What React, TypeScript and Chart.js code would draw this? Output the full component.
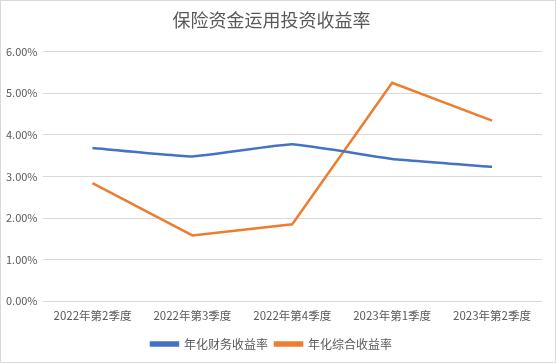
import React, { useEffect, useRef } from "react";
import { Chart, registerables } from "chart.js";

Chart.register(...registerables);

const categories = ["2022年第2季度", "2022年第3季度", "2022年第4季度", "2023年第1季度", "2023年第2季度"];
const financialYield = [0.0368, 0.0348, 0.0377, 0.0342, 0.0323];
const comprehensiveYield = [0.0284, 0.0158, 0.0185, 0.0525, 0.0434];
const seriesNames = ["年化财务收益率", "年化综合收益率"];
const titleText = "保险资金运用投资收益率";

const FONT = "'Noto Sans CJK SC', 'Noto Sans', sans-serif";

export default function App() {
  const ref = useRef<HTMLCanvasElement | null>(null);

  useEffect(() => {
    document.body.style.margin = "0";
    const ctx = ref.current!;
    const chart = new Chart(ctx, {
      type: "line",
      data: {
        labels: categories,
        datasets: [
          {
            label: seriesNames[0],
            data: financialYield,
            borderColor: "#4472C4",
            backgroundColor: "#4472C4",
            borderWidth: 2.5,
            pointRadius: 0,
            tension: 0.1,
          },
          {
            label: seriesNames[1],
            data: comprehensiveYield,
            borderColor: "#ED7D31",
            backgroundColor: "#ED7D31",
            borderWidth: 2.5,
            pointRadius: 0,
            tension: 0,
          },
        ],
      },
      options: {
        animation: false,
        responsive: false,
        layout: { padding: { left: 0, right: 13, top: 6, bottom: 2 } },
        plugins: {
          title: {
            display: true,
            text: titleText,
            color: "#595959",
            font: { family: FONT, size: 18, weight: "normal" },
            padding: { top: 2, bottom: 21 },
          },
          legend: {
            position: "bottom",
            labels: {
              color: "#595959",
              font: { family: FONT, size: 12 },
              boxWidth: 27,
              boxHeight: 3,
              padding: 7,
            },
          },
          tooltip: { enabled: false },
        },
        scales: {
          x: {
            offset: true,
            grid: { display: false },
            border: { display: false },
            afterFit: (scale: any) => {
              scale.height += 8;
            },
            ticks: {
              color: "#595959",
              font: { family: FONT, size: 11.5 },
              maxRotation: 0,
              padding: 0,
            },
          },
          y: {
            min: 0,
            max: 0.06,
            grid: { color: "#d9d9d9", drawTicks: false },
            border: { display: false },
            ticks: {
              stepSize: 0.01,
              color: "#595959",
              font: { family: FONT, size: 11 },
              padding: 5,
              callback: (v: any) => (Number(v) * 100).toFixed(2) + "%",
            },
          },
        },
      },
    });
    return () => chart.destroy();
  }, []);

  return (
    <div
      style={{
        position: "absolute",
        left: 0,
        top: 0,
        width: 556,
        height: 363,
        boxSizing: "border-box",
        border: "1px solid #d9d9d9",
        background: "#fff",
      }}
    >
      <canvas ref={ref} width={554} height={361} style={{ display: "block" }} />
    </div>
  );
}
